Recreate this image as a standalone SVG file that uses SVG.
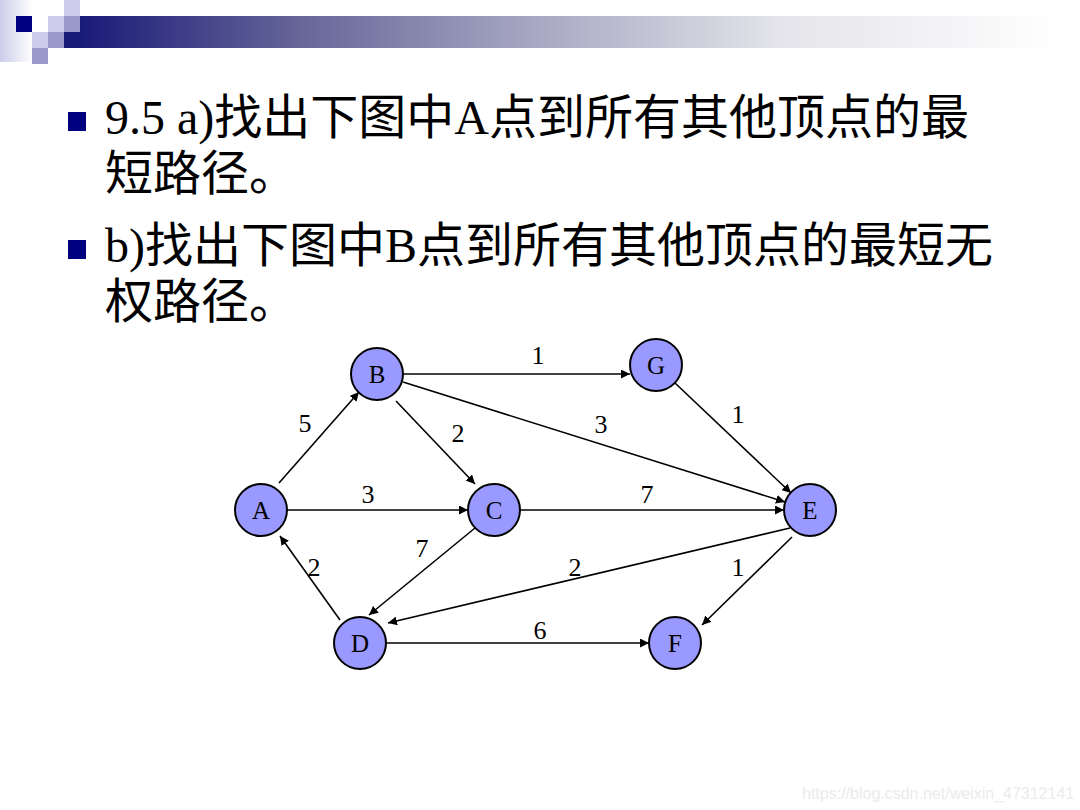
<svg xmlns="http://www.w3.org/2000/svg" width="1080" height="810" viewBox="0 0 1080 810">
<style>
.title{font-family:"Liberation Serif","Noto Sans CJK SC",serif;font-size:48px;fill:#000}
.node circle{fill:#9999ff;stroke:#000;stroke-width:2}
.node text{font-family:"Liberation Serif",serif;font-size:25px;fill:#000;text-anchor:middle}
.edges line{stroke:#000;stroke-width:1.6}
.lbl{font-family:"Liberation Serif",serif;font-size:26px;fill:#000;text-anchor:middle}
.bullet{fill:#000080}
.wm{font-family:"Liberation Sans",sans-serif;font-size:16px;fill:#ebebeb}
</style>
<defs>
<linearGradient id="bar" x1="80" y1="0" x2="1080" y2="0" gradientUnits="userSpaceOnUse">
<stop offset="0" stop-color="#1a1a78"/>
<stop offset="0.22" stop-color="#666699"/>
<stop offset="0.45" stop-color="#a6a6c2"/>
<stop offset="0.7" stop-color="#e4e4ea"/>
<stop offset="0.98" stop-color="#ffffff"/>
</linearGradient>
<linearGradient id="strip" x1="0" y1="0" x2="1" y2="0">
<stop offset="0" stop-color="#ccccea"/>
<stop offset="1" stop-color="#ffffff"/>
</linearGradient>
<marker id="ah" viewBox="0 0 10 10" refX="10" refY="5" markerWidth="9" markerHeight="9" markerUnits="userSpaceOnUse" orient="auto">
<path d="M0,0 L10,5 L0,10 z" fill="#000"/>
</marker>
</defs>
<rect width="1080" height="810" fill="#fff"/>
<g id="decoration">
<rect x="0" y="0" width="32" height="62" fill="url(#strip)"/>
<rect x="80" y="16" width="1000" height="32" fill="url(#bar)"/>
<rect x="16" y="16" width="16" height="16" fill="#000080"/>
<rect x="48" y="16" width="16" height="16" fill="#ccccea"/>
<rect x="64" y="0" width="16" height="16" fill="#ccccea"/>
<rect x="64" y="16" width="16" height="16" fill="#9999cc"/>
<rect x="32" y="32" width="16" height="16" fill="#ccccea"/>
<rect x="48" y="32" width="16" height="16" fill="#9999cc"/>
<rect x="64" y="32" width="16" height="16" fill="#1a1a78"/>
<rect x="32" y="48" width="16" height="16" fill="#9999cc"/>
</g>
<g id="title">
<rect class="bullet" x="68" y="112" width="18" height="19"/>
<text class="title" x="105" y="134">9.5 a)找出下图中A点到所有其他顶点的最</text>
<text class="title" x="105" y="190">短路径。</text>
<rect class="bullet" x="68" y="240" width="18" height="19"/>
<text class="title" x="105" y="262">b)找出下图中B点到所有其他顶点的最短无</text>
<text class="title" x="105" y="318">权路径。</text>
</g>
<g id="edges" class="edges">
<line x1="403" y1="374" x2="630" y2="374" marker-end="url(#ah)"/>
<line x1="675" y1="383" x2="791" y2="493" marker-end="url(#ah)"/>
<line x1="403" y1="382" x2="785" y2="502" marker-end="url(#ah)"/>
<line x1="279" y1="483" x2="359" y2="392" marker-end="url(#ah)"/>
<line x1="396" y1="401" x2="475" y2="484" marker-end="url(#ah)"/>
<line x1="287" y1="510" x2="468" y2="510" marker-end="url(#ah)"/>
<line x1="520" y1="510" x2="784" y2="510" marker-end="url(#ah)"/>
<line x1="475" y1="528" x2="369" y2="615" marker-end="url(#ah)"/>
<line x1="340" y1="620" x2="280" y2="536" marker-end="url(#ah)"/>
<line x1="790" y1="528" x2="388" y2="623" marker-end="url(#ah)"/>
<line x1="792" y1="537" x2="702" y2="625" marker-end="url(#ah)"/>
<line x1="386" y1="643" x2="649" y2="643" marker-end="url(#ah)"/>
</g>
<g id="edge-labels">
<text class="lbl" x="538" y="364">1</text>
<text class="lbl" x="738" y="423">1</text>
<text class="lbl" x="601" y="433">3</text>
<text class="lbl" x="305" y="432">5</text>
<text class="lbl" x="458" y="442">2</text>
<text class="lbl" x="368" y="503">3</text>
<text class="lbl" x="647" y="503">7</text>
<text class="lbl" x="422" y="557">7</text>
<text class="lbl" x="314" y="576">2</text>
<text class="lbl" x="575" y="576">2</text>
<text class="lbl" x="738" y="576">1</text>
<text class="lbl" x="540" y="639">6</text>
</g>
<g id="node-A" class="node"><circle cx="261" cy="510" r="26"/><text x="261" y="519">A</text></g>
<g id="node-B" class="node"><circle cx="377" cy="374" r="26"/><text x="377" y="383">B</text></g>
<g id="node-C" class="node"><circle cx="494" cy="510" r="26"/><text x="494" y="519">C</text></g>
<g id="node-G" class="node"><circle cx="656" cy="365" r="26"/><text x="656" y="374">G</text></g>
<g id="node-E" class="node"><circle cx="810" cy="510" r="26"/><text x="810" y="519">E</text></g>
<g id="node-D" class="node"><circle cx="360" cy="643" r="26"/><text x="360" y="652">D</text></g>
<g id="node-F" class="node"><circle cx="675" cy="643" r="26"/><text x="675" y="652">F</text></g>
<text class="wm" x="802" y="799">https://blog.csdn.net/weixin_47312141</text>
</svg>
